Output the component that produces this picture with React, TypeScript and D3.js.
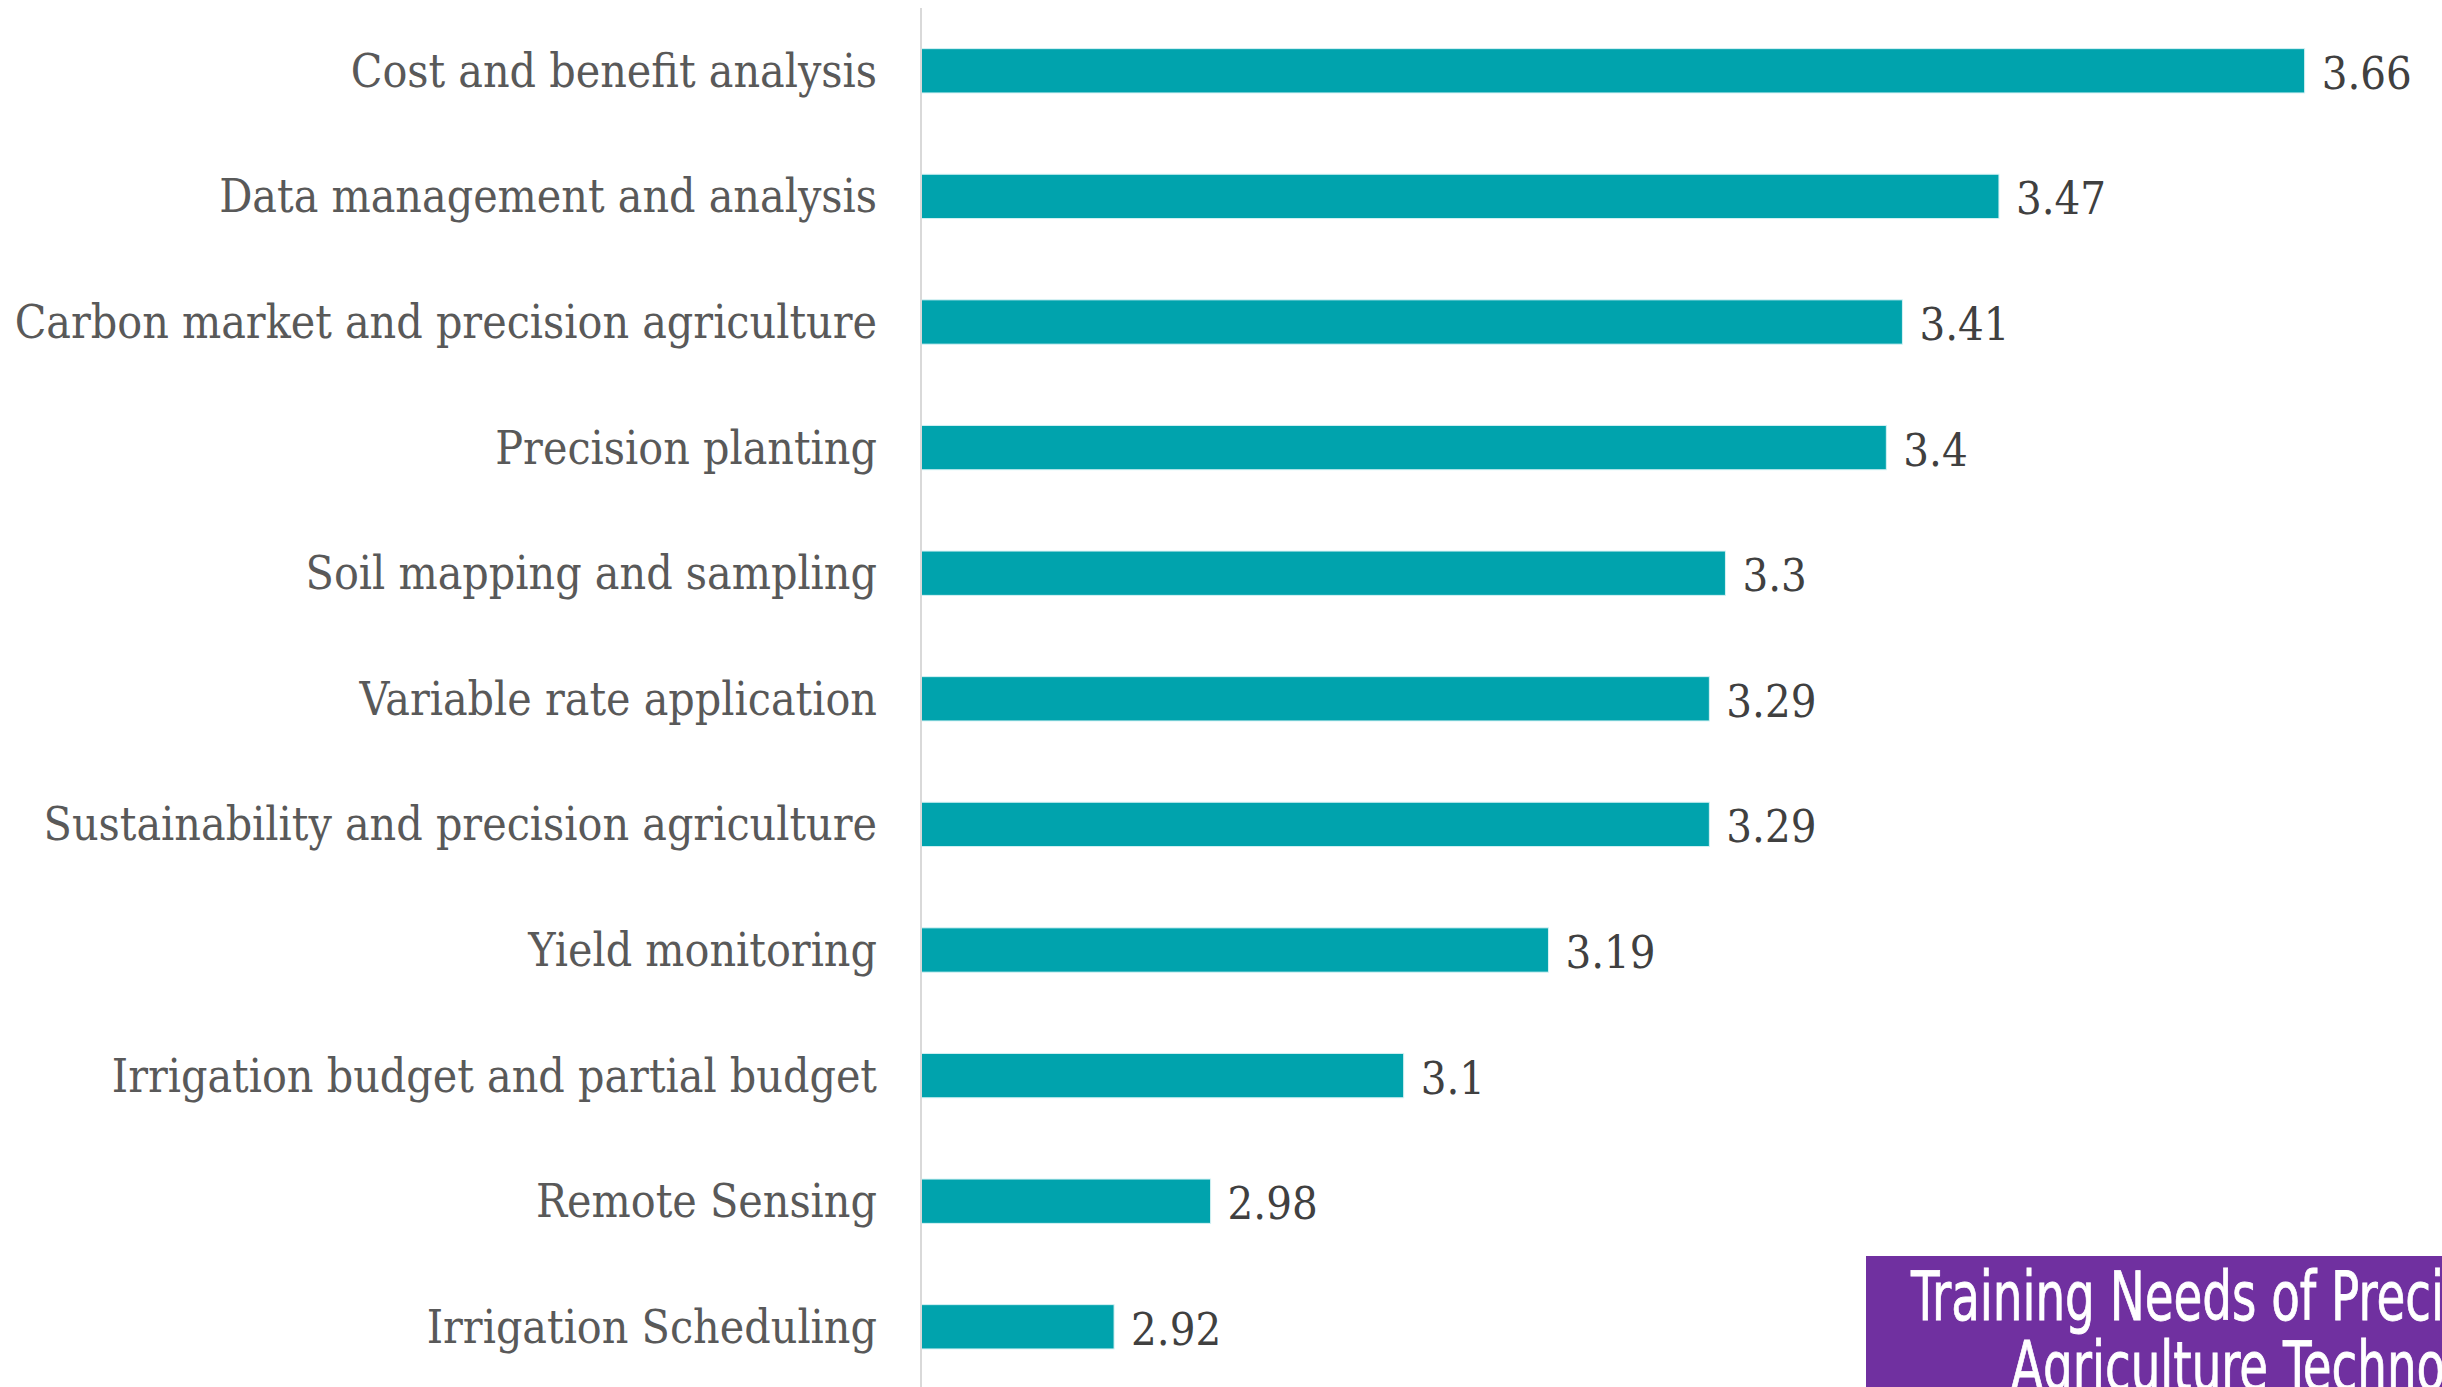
import React, { useEffect } from "react";
import * as d3 from "d3";

const categories = [
  "Cost and benefit analysis",
  "Data management and analysis",
  "Carbon market and precision agriculture",
  "Precision planting",
  "Soil mapping and sampling",
  "Variable rate application",
  "Sustainability and precision agriculture",
  "Yield monitoring",
  "Irrigation budget and partial budget",
  "Remote Sensing",
  "Irrigation Scheduling",
];
const values = [3.66, 3.47, 3.41, 3.4, 3.3, 3.29, 3.29, 3.19, 3.1, 2.98, 2.92];
const titleLines = ["Training Needs of Precision", "Agriculture Technologies"];

const W = 2442;
const H = 1387;

export default function App() {
  useEffect(() => {
    document.body.style.margin = "0";
    document.body.style.overflow = "hidden";
  }, []);

  const x = d3.scaleLinear().domain([2.8, 3.7]).range([921, 2369]);
  const y = d3
    .scaleBand<string>()
    .domain(categories)
    .range([8, 8 + 11 * 125.6])
    .paddingInner(0.647)
    .paddingOuter(0.3235);

  const serif = "'DejaVu Serif Condensed', 'DejaVu Serif', serif";
  const narrow = "'Liberation Sans Narrow', 'DejaVu Sans Condensed', 'Roboto', sans-serif";

  return (
    <svg width={W} height={H} style={{ position: "absolute", left: 0, top: 0, display: "block" }}>
      <rect x={0} y={0} width={W} height={H} fill="#ffffff" />
      {categories.map((c, i) => {
        const by = y(c)!;
        const bw = y.bandwidth();
        const cy = by + bw / 2;
        return (
          <g key={c}>
            <rect
              x={x(2.8)}
              y={by}
              width={x(values[i]) - x(2.8)}
              height={bw}
              fill="#00A3AD"
              stroke="#d6f2f4"
              strokeWidth={1}
            />
            <text
              x={877}
              y={cy + 16}
              textAnchor="end"
              fontFamily={serif}
              fontStretch="condensed"
              fontSize={46}
              fill="#595959"
            >
              {c}
            </text>
            <text
              x={x(values[i]) + 17}
              y={cy + 18}
              fontFamily={serif}
              fontStretch="condensed"
              fontSize={45}
              fill="#404040"
            >
              {String(values[i])}
            </text>
          </g>
        );
      })}
      <line x1={921} x2={921} y1={8} y2={H} stroke="#d9d9d9" strokeWidth={2} />
      <rect x={1866} y={1256} width={W - 1866 + 10} height={200} fill="#7030A0" />
      <text
        transform="translate(1911,1320) scale(0.765,1)"
        fontFamily={narrow}
        fontStretch="condensed"
        fontSize={68}
        fill="#ffffff"
        stroke="#ffffff"
        strokeWidth={0.8}
      >
        {titleLines[0]}
      </text>
      <text
        transform="translate(2011,1390) scale(0.765,1)"
        fontFamily={narrow}
        fontStretch="condensed"
        fontSize={68}
        fill="#ffffff"
        stroke="#ffffff"
        strokeWidth={0.8}
      >
        {titleLines[1]}
      </text>
    </svg>
  );
}
